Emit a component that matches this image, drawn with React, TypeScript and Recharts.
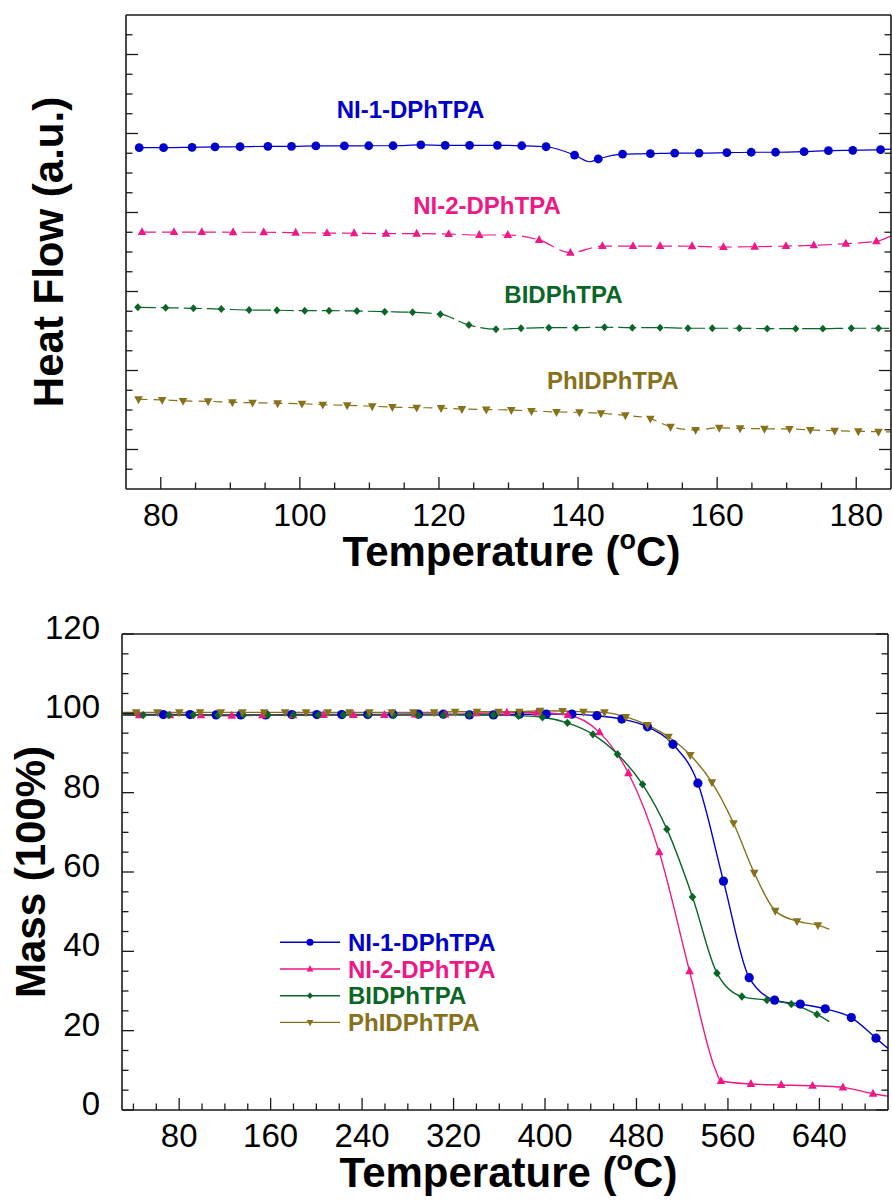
import React from "react";
import { ComposedChart, Line, Scatter, XAxis, YAxis, ReferenceDot } from "recharts";

const FONT = '"Liberation Sans", Arial, Helvetica, sans-serif';
const BLUE = "#0000cc";
const PINK = "#ee1886";
const GREEN = "#0a6626";
const OLIVE = "#85721a";
const AXIS = "#1a1a1a";

// ---------- DSC (top panel) ----------
const dscTicksX = [80, 85, 90, 95, 100, 105, 110, 115, 120, 125, 130, 135, 140, 145, 150, 155, 160, 165, 170, 175, 180];
const dscLabelsX = [80, 100, 120, 140, 160, 180];
const dscTicksY = [1, 2, 3, 4, 5, 6, 7, 8, 9, 10, 11, 12, 13, 14, 15, 16, 17, 18, 19, 20, 21, 22, 23];
const dscMajorY = [2, 6, 10, 14, 18, 22];

const dscNi1T = [76.9, 80.4, 84.5, 87.8, 91.4, 95.4, 98.8, 102.3, 106.4, 109.9, 113.4, 117.4, 120.9, 124.4, 128.4, 131.9, 135.4, 139.5, 142.9, 146.4, 150.4, 153.9, 157.4, 161.4, 164.9, 168.4, 172.5, 176.0, 179.5, 183.5];
const dscNi1V = [17.28, 17.28, 17.3, 17.32, 17.33, 17.35, 17.35, 17.37, 17.37, 17.38, 17.38, 17.42, 17.4, 17.4, 17.4, 17.38, 17.33, 16.91, 16.71, 16.96, 16.98, 17.01, 17.01, 17.03, 17.05, 17.05, 17.08, 17.13, 17.15, 17.18];
const dscNi1ExtraT = [141.7, 185];
const dscNi1ExtraV = [16.57, 17.21];

const dscNi2T = [77.3, 81.9, 85.9, 90.4, 94.8, 99.4, 103.9, 107.8, 112.4, 116.8, 121.4, 125.8, 129.9, 134.4, 138.9, 143.5, 147.9, 151.8, 156.4, 160.9, 165.4, 169.9, 173.9, 178.5, 182.9];
const dscNi2V = [13.01, 13.01, 13.01, 13.0, 13.0, 12.98, 12.96, 12.95, 12.93, 12.93, 12.91, 12.86, 12.86, 12.61, 11.96, 12.3, 12.3, 12.3, 12.29, 12.25, 12.27, 12.3, 12.34, 12.42, 12.54];
const dscNi2ExtraT = [185];
const dscNi2ExtraV = [12.81];

const dscBiT = [76.7, 80.7, 84.7, 88.7, 92.7, 96.7, 100.7, 104.2, 108.2, 112.2, 116.2, 120.2, 124.3, 128.2, 131.8, 135.8, 139.7, 143.8, 147.8, 151.8, 155.8, 159.3, 163.2, 167.2, 171.3, 175.2, 179.3, 183.2];
const dscBiV = [9.2, 9.18, 9.15, 9.11, 9.06, 9.05, 9.03, 9.03, 9.01, 8.98, 8.95, 8.85, 8.3, 8.09, 8.14, 8.17, 8.17, 8.19, 8.17, 8.17, 8.14, 8.14, 8.14, 8.12, 8.12, 8.12, 8.14, 8.14];
const dscBiExtraT = [185];
const dscBiExtraV = [8.13];

const dscPhT = [76.8, 80.2, 83.2, 86.8, 90.3, 93.2, 96.8, 100.3, 103.3, 106.8, 110.4, 113.3, 116.8, 120.3, 123.3, 126.8, 130.4, 133.3, 136.9, 140.2, 143.3, 146.8, 150.4, 153.3, 156.9, 160.3, 163.3, 166.8, 170.4, 173.4, 176.9, 180.3, 183.2];
const dscPhV = [4.54, 4.51, 4.46, 4.44, 4.39, 4.37, 4.34, 4.32, 4.27, 4.24, 4.19, 4.15, 4.12, 4.1, 4.05, 4.02, 4.0, 3.95, 3.9, 3.88, 3.83, 3.73, 3.56, 3.15, 2.99, 3.1, 3.07, 3.05, 3.04, 2.99, 2.95, 2.92, 2.9];
const dscPhExtraT = [185];
const dscPhExtraV = [2.89];

const dscTagT = [115.9, 126.9, 137.9, 145.0];
const dscTagV = [18.77, 13.93, 9.42, 5.05];

// ---------- TGA (bottom panel) ----------
const tgaTicksX = [40, 60, 80, 100, 120, 140, 160, 180, 200, 220, 240, 260, 280, 300, 320, 340, 360, 380, 400, 420, 440, 460, 480, 500, 520, 540, 560, 580, 600, 620, 640, 660, 680];
const tgaLabelsX = [80, 160, 240, 320, 400, 480, 560, 640];
const tgaTicksY = [0, 5, 10, 15, 20, 25, 30, 35, 40, 45, 50, 55, 60, 65, 70, 75, 80, 85, 90, 95, 100, 105, 110, 115, 120];
const tgaLabelsY = [0, 20, 40, 60, 80, 100, 120];

const tgaNi1T = [66.1, 89.5, 112.3, 133.9, 155.7, 178.5, 200.4, 222.2, 245, 266.9, 289.3, 311.1, 333.9, 354.9, 377.6, 401, 423.5, 445.4, 467.2, 489.6, 511.9, 533.7, 556.1, 578.6, 600.8, 623.3, 645.1, 667.9, 689.5];
const tgaNi1M = [99.7, 99.7, 99.6, 99.6, 99.6, 99.7, 99.7, 99.7, 99.7, 99.8, 99.8, 99.8, 99.6, 99.6, 99.75, 99.8, 99.8, 99.4, 98.56, 96.6, 92.2, 82.4, 57.7, 33.35, 27.7, 26.7, 25.5, 23.3, 18.1];
const tgaNi1ExtraT = [31, 700];
const tgaNi1ExtraM = [99.7, 15.5];

const tgaNi2T = [45.1, 72, 99.1, 126, 152.8, 179.6, 206.1, 232.4, 259.5, 286.4, 312.6, 339.8, 366.6, 392.9, 420, 447.6, 473, 499.9, 526.4, 553.9, 580.1, 606.6, 634, 660.6, 686.9];
const tgaNi2M = [99.5, 99.5, 99.5, 99.4, 99.5, 99.5, 99.6, 99.6, 99.6, 99.7, 99.7, 100.0, 100.15, 100.15, 99.57, 95.2, 84.9, 65.0, 35.0, 7.3, 6.55, 6.3, 6.1, 5.7, 4.1];
const tgaNi2ExtraT = [31, 549, 700];
const tgaNi2ExtraM = [99.5, 10.2, 3.5];

const tgaBiT = [48.6, 71.1, 92.4, 114, 136.1, 157.8, 179.9, 201.8, 223.6, 245.5, 267.4, 289.3, 311.1, 333.6, 354.9, 376.8, 397.8, 419.6, 441.9, 463.4, 485.3, 506.6, 529, 550.4, 572.2, 594.1, 615.4, 637.9];
const tgaBiM = [99.55, 99.55, 99.55, 99.55, 99.55, 99.55, 99.55, 99.55, 99.55, 99.55, 99.55, 99.55, 99.55, 99.65, 99.57, 99.4, 99.0, 97.6, 94.7, 89.7, 82.1, 70.8, 53.7, 34.5, 28.6, 27.7, 26.7, 24.1];
const tgaBiExtraT = [31, 648.6];
const tgaBiExtraM = [99.5, 22.3];

const tgaPhT = [42.3, 61, 80.1, 98.3, 116.4, 135.3, 154.3, 172.6, 191, 210, 228.9, 246.4, 266, 284.9, 303, 321.4, 340.4, 359.3, 377.6, 395.8, 415.3, 433.6, 452, 470.7, 489.6, 508, 527, 546, 564.9, 583, 601.4, 620.4, 638.7];
const tgaPhM = [100.25, 100.25, 100.25, 100.25, 100.25, 100.25, 100.25, 100.25, 100.25, 100.25, 100.25, 100.25, 100.25, 100.25, 100.25, 100.4, 100.4, 100.4, 100.4, 100.65, 100.6, 100.4, 100.25, 99.1, 97.05, 94.1, 89.5, 82.6, 72.3, 59.8, 50.2, 47.6, 46.6];
const tgaPhExtraT = [31, 648.6];
const tgaPhExtraM = [100.25, 45.6];

const seriesNames = ["NI-1-DPhTPA", "NI-2-DPhTPA", "BIDPhTPA", "PhIDPhTPA"];
const seriesColors = [BLUE, PINK, GREEN, OLIVE];
const seriesShapes = ["circle", "up", "diamond", "down"];
const dscDash = [undefined, "14 6", "18 5", "9 6"];

type Pt = { t: number; v: number };
const pts = (t: number[], v: number[]): Pt[] => t.map((x, i) => ({ t: x, v: v[i] }));
const curve = (t: number[], v: number[], et: number[], ev: number[]) =>
  [...pts(t, v), ...pts(et, ev)].sort((a, b) => a.t - b.t);

const dscMarks = [pts(dscNi1T, dscNi1V), pts(dscNi2T, dscNi2V), pts(dscBiT, dscBiV), pts(dscPhT, dscPhV)];
const dscLines = [
  curve(dscNi1T, dscNi1V, dscNi1ExtraT, dscNi1ExtraV),
  curve(dscNi2T, dscNi2V, dscNi2ExtraT, dscNi2ExtraV),
  curve(dscBiT, dscBiV, dscBiExtraT, dscBiExtraV),
  curve(dscPhT, dscPhV, dscPhExtraT, dscPhExtraV),
];
const tgaMarks = [pts(tgaNi1T, tgaNi1M), pts(tgaNi2T, tgaNi2M), pts(tgaBiT, tgaBiM), pts(tgaPhT, tgaPhM)];
const tgaLines = [
  curve(tgaNi1T, tgaNi1M, tgaNi1ExtraT, tgaNi1ExtraM),
  curve(tgaNi2T, tgaNi2M, tgaNi2ExtraT, tgaNi2ExtraM),
  curve(tgaBiT, tgaBiM, tgaBiExtraT, tgaBiExtraM),
  curve(tgaPhT, tgaPhM, tgaPhExtraT, tgaPhExtraM),
];

function Marker({ kind, cx, cy, color, s = 1 }: any) {
  if (cx == null || cy == null) return <g />;
  if (kind === "circle") return <circle cx={cx} cy={cy} r={4.4 * s} fill={color} />;
  if (kind === "up")
    return <polygon points={`${cx},${cy - 4.9 * s} ${cx + 4.3 * s},${cy + 3 * s} ${cx - 4.3 * s},${cy + 3 * s}`} fill={color} />;
  if (kind === "diamond")
    return <polygon points={`${cx},${cy - 4.2 * s} ${cx + 3.8 * s},${cy} ${cx},${cy + 4.2 * s} ${cx - 3.8 * s},${cy}`} fill={color} />;
  return <polygon points={`${cx - 4.3 * s},${cy - 3 * s} ${cx + 4.3 * s},${cy - 3 * s} ${cx},${cy + 4.9 * s}`} fill={color} />;
}

// inward-pointing ticks, longer on majors; labels only where asked
const inTick = (side: string, majors: number[], label: boolean, fontSize = 32, off = 37) => (p: any) => {
  const { x, y, payload } = p;
  const v = payload.value;
  const major = majors.includes(v);
  const len = major ? 12 : 6.5;
  const x2 = side === "left" ? x + len : side === "right" ? x - len : x;
  const y2 = side === "bottom" ? y - len : side === "top" ? y + len : y;
  let txt = null;
  if (label && major) {
    txt =
      side === "bottom" ? (
        <text x={x} y={y + off} textAnchor="middle" fontFamily={FONT} fontSize={fontSize} fill="#000">{v}</text>
      ) : (
        <text x={x - off} y={y + 5} textAnchor="end" fontFamily={FONT} fontSize={fontSize} fill="#000">{v}</text>
      );
  }
  return (
    <g>
      <line x1={x} y1={y} x2={x2} y2={y2} stroke={AXIS} strokeWidth={1.3} />
      {txt}
    </g>
  );
};

const XTitle = ({ viewBox, dx = 0, dy = 0 }: any) => {
  if (!viewBox) return null;
  return (
    <text x={viewBox.x + viewBox.width / 2 + dx} y={viewBox.y + dy} textAnchor="middle" fontFamily={FONT} fontSize={42} fontWeight="bold" fill="#000">
      Temperature (<tspan fontSize={27} dy={-17}>o</tspan><tspan dy={17}>C)</tspan>
    </text>
  );
};

const YTitle = ({ viewBox, text, bx }: any) => {
  if (!viewBox) return null;
  const cx = viewBox.x + bx;
  const cy = viewBox.y + viewBox.height / 2;
  return (
    <text x={cx} y={cy} transform={`rotate(-90 ${cx} ${cy})`} textAnchor="middle" fontFamily={FONT} fontSize={42} fontWeight="bold" fill="#000">
      {text}
    </text>
  );
};

const SeriesTag = ({ viewBox, text, color }: any) => {
  if (!viewBox) return null;
  return (
    <text x={viewBox.x + (viewBox.width || 0) / 2} y={viewBox.y + (viewBox.height || 0) / 2} textAnchor="middle" fontFamily={FONT} fontSize={24} fontWeight="bold" fill={color}>
      {text}
    </text>
  );
};

const axisLine = { stroke: AXIS, strokeWidth: 1.6 };

function DscChart() {
  return (
    <ComposedChart width={892} height={600} margin={{ top: 0, right: 0, bottom: 0, left: 0 }}>
      <XAxis dataKey="t" type="number" domain={[75, 185]} allowDataOverflow ticks={dscTicksX} interval={0} height={111}
        tickSize={0} tickMargin={0} tickLine={false} axisLine={axisLine} tick={inTick("bottom", dscLabelsX, true, 32, 37)}
        label={<XTitle dx={3} dy={77} />} />
      <XAxis xAxisId="top" orientation="top" type="number" domain={[75, 185]} allowDataOverflow ticks={dscTicksX} interval={0} height={15}
        tickSize={0} tickMargin={0} tickLine={false} axisLine={axisLine} tick={inTick("top", dscLabelsX, false)} />
      <YAxis dataKey="v" type="number" domain={[0, 24]} allowDataOverflow ticks={dscTicksY} interval={0} width={126}
        tickSize={0} tickMargin={0} tickLine={false} axisLine={axisLine} tick={inTick("left", dscMajorY, false)}
        label={<YTitle text="Heat Flow (a.u.)" bx={63} />} />
      <YAxis yAxisId="right" orientation="right" type="number" domain={[0, 24]} allowDataOverflow ticks={dscTicksY} interval={0} width={1}
        tickSize={0} tickMargin={0} tickLine={false} axisLine={axisLine} tick={inTick("right", dscMajorY, false)} />
      {dscLines.map((d, i) => (
        <Line key={"l" + i} data={d} dataKey="v" type="monotone" stroke={seriesColors[i]} strokeWidth={1.2}
          strokeDasharray={dscDash[i]} dot={false} activeDot={false} isAnimationActive={false} />
      ))}
      {dscMarks.map((d, i) => (
        <Scatter key={"s" + i} data={d} dataKey="v" isAnimationActive={false}
          shape={(p: any) => <Marker kind={seriesShapes[i]} cx={p.cx} cy={p.cy} color={seriesColors[i]} s={i === 2 ? 0.95 : 1} />} />
      ))}
      {seriesNames.map((n, i) => (
        <ReferenceDot key={"tag" + i} x={dscTagT[i]} y={dscTagV[i]} r={1} fill="none" stroke="none"
          label={<SeriesTag text={n} color={seriesColors[i]} />} />
      ))}
    </ComposedChart>
  );
}

function TgaChart() {
  return (
    <ComposedChart width={892} height={601} margin={{ top: 0, right: 0, bottom: 0, left: 0 }}>
      <XAxis dataKey="t" type="number" domain={[30, 700]} allowDataOverflow ticks={tgaTicksX} interval={0} height={91}
        tickSize={0} tickMargin={0} tickLine={false} axisLine={axisLine} tick={inTick("bottom", tgaLabelsX, true, 33, 37)}
        label={<XTitle dx={3.5} dy={77} />} />
      <XAxis xAxisId="top" orientation="top" type="number" domain={[30, 700]} allowDataOverflow ticks={tgaTicksX} interval={0} height={34}
        tickSize={0} tickMargin={0} tickLine={false} axisLine={axisLine} tick={inTick("top", tgaLabelsX, false)} />
      <YAxis dataKey="v" type="number" domain={[0, 120]} allowDataOverflow ticks={tgaTicksY} interval={0} width={122}
        tickSize={0} tickMargin={0} tickLine={false} axisLine={axisLine} tick={inTick("left", tgaLabelsY, true, 33, 22)}
        label={<YTitle text="Mass (100%)" bx={45} />} />
      <YAxis yAxisId="right" orientation="right" type="number" domain={[0, 120]} allowDataOverflow ticks={tgaTicksY} interval={0} width={4}
        tickSize={0} tickMargin={0} tickLine={false} axisLine={axisLine} tick={inTick("right", tgaLabelsY, false)} />
      {tgaLines.map((d, i) => (
        <Line key={"l" + i} data={d} dataKey="v" type="monotone" stroke={seriesColors[i]} strokeWidth={1.4}
          dot={false} activeDot={false} isAnimationActive={false} />
      ))}
      {tgaMarks.map((d, i) => (
        <Scatter key={"s" + i} data={d} dataKey="v" isAnimationActive={false}
          shape={(p: any) => <Marker kind={seriesShapes[i]} cx={p.cx} cy={p.cy} color={seriesColors[i]} s={i === 0 ? 1.05 : 1} />} />
      ))}
    </ComposedChart>
  );
}

function TgaLegend() {
  return (
    <svg width={260} height={110} style={{ position: "absolute", left: 270, top: 328 }}>
      {seriesNames.map((n, i) => {
        const cy = 14.3 + i * 26.7;
        return (
          <g key={n}>
            <line x1={10} y1={cy} x2={70} y2={cy} stroke={seriesColors[i]} strokeWidth={1.4} />
            <Marker kind={seriesShapes[i]} cx={40} cy={cy} color={seriesColors[i]} s={0.8} />
            <text x={78} y={cy + 8.5} fontFamily={FONT} fontSize={24} fontWeight="bold" fill={seriesColors[i]}>{n}</text>
          </g>
        );
      })}
    </svg>
  );
}

export default function App() {
  return (
    <div style={{ position: "absolute", left: 0, top: 0, width: 892, height: 1201, background: "#fff", overflow: "hidden" }}>
      <div style={{ position: "absolute", left: 0, top: 0 }}>
        <DscChart />
      </div>
      <div style={{ position: "absolute", left: 0, top: 600 }}>
        <TgaChart />
        <TgaLegend />
      </div>
    </div>
  );
}
